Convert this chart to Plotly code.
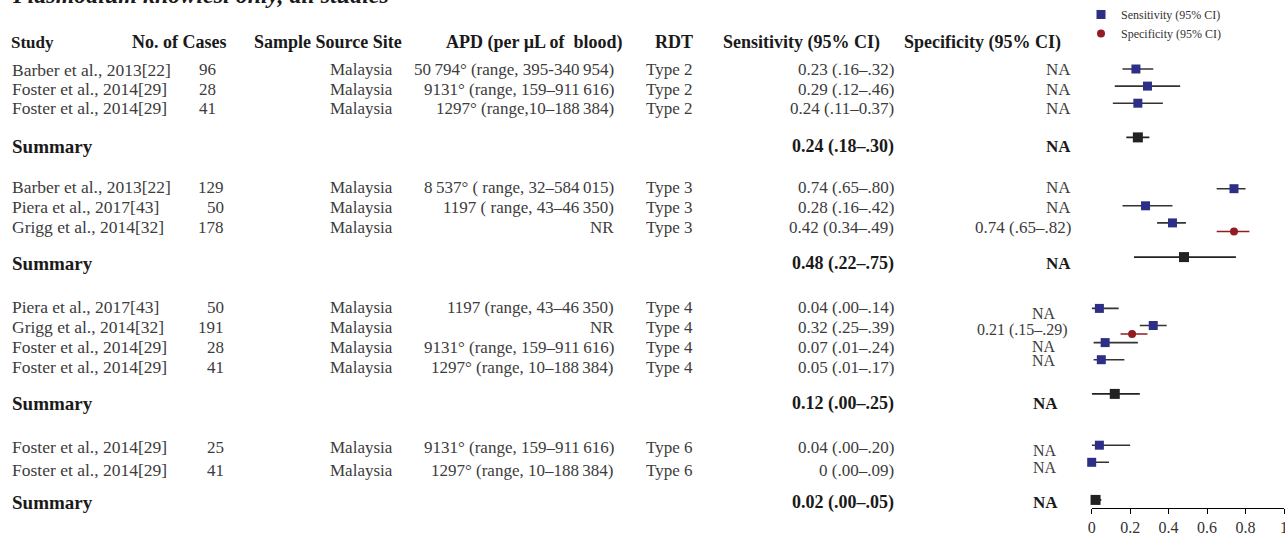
import plotly.graph_objects as go

# ---------------- data ----------------
study = ["Barber et al., 2013[22]", "Foster et al., 2014[29]", "Foster et al., 2014[29]", "Summary",
         "Barber et al., 2013[22]", "Piera et al., 2017[43]", "Grigg et al., 2014[32]", "Summary",
         "Piera et al., 2017[43]", "Grigg et al., 2014[32]", "Foster et al., 2014[29]", "Foster et al., 2014[29]", "Summary",
         "Foster et al., 2014[29]", "Foster et al., 2014[29]", "Summary"]
cases = ["96", "28", "41", "", "129", "50", "178", "", "50", "191", "28", "41", "", "25", "41", ""]
site = ["Malaysia", "Malaysia", "Malaysia", "", "Malaysia", "Malaysia", "Malaysia", "",
        "Malaysia", "Malaysia", "Malaysia", "Malaysia", "", "Malaysia", "Malaysia", ""]
apd = ["50\u2009794° (range, 395-340\u2009954)", "9131° (range, 159–911\u2009616)", "1297° (range,10–188\u2009384)", "",
       "8\u2009537° ( range, 32–584\u2009015)", "1197 ( range, 43–46\u2009350)", "NR", "",
       "1197 (range, 43–46\u2009350)", "NR", "9131° (range, 159–911\u2009616)", "1297° (range, 10–188\u2009384)", "",
       "9131° (range, 159–911\u2009616)", "1297° (range, 10–188\u2009384)", ""]
rdt = ["Type 2", "Type 2", "Type 2", "", "Type 3", "Type 3", "Type 3", "",
       "Type 4", "Type 4", "Type 4", "Type 4", "", "Type 6", "Type 6", ""]
sens_text = ["0.23 (.16–.32)", "0.29 (.12–.46)", "0.24 (.11–0.37)", "0.24 (.18–.30)",
             "0.74 (.65–.80)", "0.28 (.16–.42)", "0.42 (0.34–.49)", "0.48 (.22–.75)",
             "0.04 (.00–.14)", "0.32 (.25–.39)", "0.07 (.01–.24)", "0.05 (.01–.17)", "0.12 (.00–.25)",
             "0.04 (.00–.20)", "0 (.00–.09)", "0.02 (.00–.05)"]
spec_text = ["NA", "NA", "NA", "NA", "NA", "NA", "0.74 (.65–.82)", "NA",
             "NA", "0.21 (.15–.29)", "NA", "NA", "NA", "NA", "NA", "NA"]
is_summary = [s == "Summary" for s in study]

# forest values (study rows)
sens_est = [0.23, 0.29, 0.24, 0.74, 0.28, 0.42, 0.04, 0.32, 0.07, 0.05, 0.04, 0.00]
sens_lo = [0.16, 0.12, 0.11, 0.65, 0.16, 0.34, 0.00, 0.25, 0.01, 0.01, 0.00, 0.00]
sens_hi = [0.32, 0.46, 0.37, 0.80, 0.42, 0.49, 0.14, 0.39, 0.24, 0.17, 0.20, 0.09]
# summary values
sum_est = [0.24, 0.48, 0.12, 0.02]
sum_lo = [0.18, 0.22, 0.00, 0.00]
sum_hi = [0.30, 0.75, 0.25, 0.05]
# specificity values
spec_est = [0.74, 0.21]
spec_lo = [0.65, 0.15]
spec_hi = [0.82, 0.29]

x_ticks = [0, 0.2, 0.4, 0.6, 0.8, 1]
x_tick_labels = ["0", "0.2", "0.4", "0.6", "0.8", "1"]

headers = ["Study", "No. of Cases", "Sample Source Site", "APD (per µL of  blood)", "RDT",
           "Sensitivity (95% CI)", "Specificity (95% CI)"]
title_text = "<b><i>Plasmodium knowlesi only, all studies</i></b>"

# ---------------- layout positions (pixels, visible text edges) ----------------
W, H = 1285, 537
row_y = [70, 89, 108, 146, 187, 207, 227, 264, 307, 327, 347, 367, 403, 447, 470, 502]
spec_y = [70, 89, 108, 146, 187, 207, 227, 264, 313, 330, 346, 360, 403, 451, 467, 502]
spec_xr = [1070] * 8 + [1055, 1067, 1055, 1055, 1057, 1056, 1056, 1057]
group_of_row = [0, 0, 0, 0, 1, 1, 1, 1, 2, 2, 2, 2, 2, 3, 3, 3]
study_slots = [0, 1, 2, 7, 8, 9, 14, 15, 16, 17, 22, 23]
summary_slots = [4, 11, 19, 25.2]
spec_slots = [9.5, 15.5]
header_y = 42
header_pos = [(12, "left", 17), (179, "center", 18), (328, "center", 18), (534, "center", 18),
              (674, "center", 18), (801, "center", 18), (983, "center", 18)]
PAD = 3  # annotation box inner padding

FONT = "Liberation Serif"
ROW_COLOR = "#3c3c3c"
HEAD_COLOR = "#1a1a1a"
BLUE = "#2d2f86"
RED = "#921c22"
BLACK = "#222222"

def px(x):
    return x / W

def py(y):
    return 1 - y / H

annotations = []

def add_text(text, x, y, anchor, bold=False, size=17, color=ROW_COLOR):
    if anchor == "left":
        x -= PAD
    elif anchor == "right":
        x += PAD
    annotations.append(dict(
        text=("<b>%s</b>" % text) if bold else text,
        x=px(x), y=py(y), xref="paper", yref="paper",
        xanchor=anchor, yanchor="middle", showarrow=False,
        font=dict(family=FONT, size=size, color=color)))

# title (cut at top)
annotations.append(dict(text=title_text, x=px(13 - PAD), y=py(10), xref="paper", yref="paper",
                        xanchor="left", yanchor="bottom", showarrow=False,
                        font=dict(family=FONT, size=24, color=HEAD_COLOR)))

for h, (hx, ha, hs) in zip(headers, header_pos):
    add_text(h, hx, header_y, ha, bold=True, size=hs, color=HEAD_COLOR)

for i in range(len(study)):
    y = row_y[i]
    if is_summary[i]:
        add_text("Summary", 13, y, "left", bold=True, size=19, color=HEAD_COLOR)
        add_text(sens_text[i], 893, y, "right", bold=True, size=18, color=HEAD_COLOR)
        add_text(spec_text[i], spec_xr[i], spec_y[i], "right", bold=True, color=HEAD_COLOR)
        continue
    add_text(study[i], 13, y, "left", size=17.5)
    if group_of_row[i] == 0:
        add_text(cases[i], 207, y, "center")
    else:
        add_text(cases[i], 223, y, "right")
    add_text(site[i], 392, y, "right")
    add_text(apd[i], 613, y, "right")
    add_text(rdt[i], 647, y, "left")
    add_text(sens_text[i], 893, y, "right")
    add_text(spec_text[i], spec_xr[i], spec_y[i], "right", size=17 if group_of_row[i] < 2 else 16)

# ---------------- forest traces ----------------
def err(est, lo, hi):
    return dict(type="data", symmetric=False,
                array=[h - e for e, h in zip(est, hi)],
                arrayminus=[e - l for e, l in zip(est, lo)])

fig = go.Figure()
fig.add_trace(go.Scatter(
    x=sens_est, y=study_slots, mode="markers", name="Sensitivity (95% CI)",
    marker=dict(symbol="square", size=9, color=BLUE),
    error_x=dict(**err(sens_est, sens_lo, sens_hi), color="#333333", thickness=1.6, width=0),
    cliponaxis=False))
fig.add_trace(go.Scatter(
    x=spec_est, y=spec_slots, mode="markers", name="Specificity (95% CI)",
    marker=dict(symbol="circle", size=8, color=RED),
    error_x=dict(**err(spec_est, spec_lo, spec_hi), color=RED, thickness=1.6, width=0),
    cliponaxis=False))
fig.add_trace(go.Scatter(
    x=sum_est, y=summary_slots, mode="markers", showlegend=False,
    marker=dict(symbol="square", size=10, color=BLACK),
    error_x=dict(**err(sum_est, sum_lo, sum_hi), color="#222222", thickness=1.6, width=0),
    cliponaxis=False))

slot_px = 17.1
y_top_px = 69
axis_px = 508
r0 = -y_top_px / slot_px
r1 = r0 + axis_px / slot_px

fig.update_layout(
    width=W, height=H,
    margin=dict(l=0, r=0, t=0, b=0, autoexpand=False),
    paper_bgcolor="white", plot_bgcolor="white",
    annotations=annotations,
    showlegend=True,
    legend=dict(x=px(1081), y=1 + 3 / H, xref="container", yref="container",
                xanchor="left", yanchor="top",
                font=dict(family=FONT, size=12, color="#333333"),
                bgcolor="rgba(0,0,0,0)", tracegroupgap=0, itemwidth=30),
    xaxis=dict(domain=[px(1091.7), px(1284)], range=[0, 1], tickvals=x_ticks, ticktext=x_tick_labels,
               showline=True, linecolor="black", linewidth=1, ticks="outside", ticklen=5,
               tickcolor="black", showgrid=False, zeroline=False, ticklabeloverflow="allow",
               automargin=False,
               tickfont=dict(family=FONT, size=16, color="#333333")),
    yaxis=dict(domain=[1 - axis_px / H, 1], range=[r1, r0], visible=False,
               showgrid=False, zeroline=False, automargin=False),
)

fig.write_html("out.html", config={"displayModeBar": False},
               post_script="document.body.style.margin='0';document.body.style.overflow='hidden';")
